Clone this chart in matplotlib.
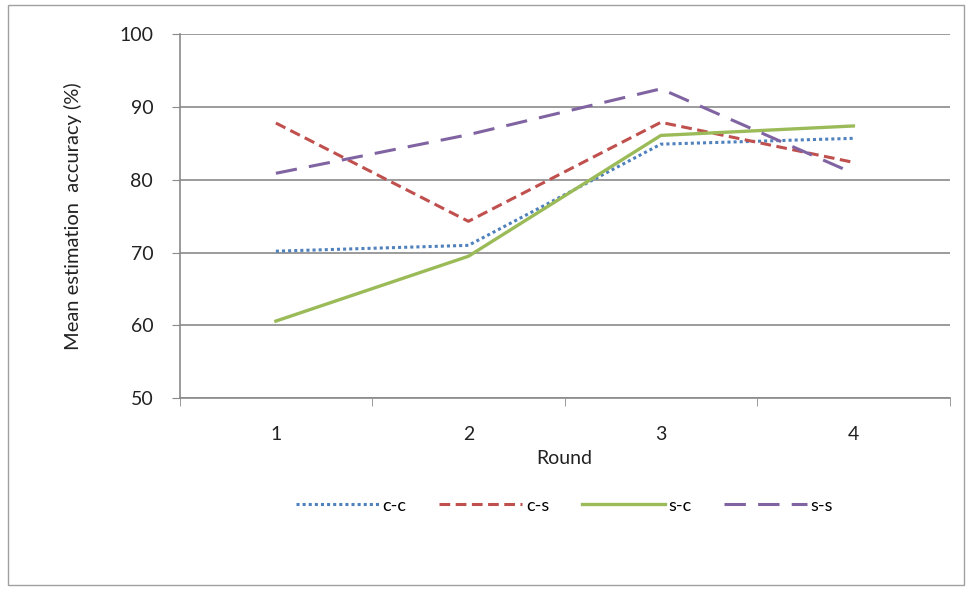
import matplotlib

matplotlib.use("Agg")
import matplotlib.pyplot as plt
from matplotlib.patches import Rectangle

# mean estimation accuracy per round, one list per condition
rounds = ["1", "2", "3", "4"]
cc = [70.2, 71.0, 84.9, 85.7]
cs = [87.8, 74.3, 87.9, 82.4]
sc = [60.6, 69.5, 86.1, 87.4]
ss = [80.9, 86.2, 92.5, 80.9]
labels = ["c-c", "c-s", "s-c", "s-s"]

GRID = "#8a8a8a"
TXT = "#222222"
plt.rcParams["font.family"] = ["Lato", "DejaVu Sans"]

fig = plt.figure(figsize=(9.71, 5.90), dpi=100)
fig.patches.append(Rectangle((0.008, 0.008), 0.985, 0.984, transform=fig.transFigure,
                             fill=False, edgecolor="#a0a0a0", lw=1.0))
ax = fig.add_axes([0.185, 0.325, 0.793, 0.617])

x = range(1, len(rounds) + 1)
ax.plot(x, cc, color="#4F81BD", lw=2.2, ls=(0, (1, 1)), label=labels[0])
ax.plot(x, cs, color="#C0504D", lw=2.2, ls=(0, (3.5, 1.8)), label=labels[1])
ax.plot(x, sc, color="#9BBB59", lw=2.4, ls="-", label=labels[2])
ax.plot(x, ss, color="#8064A2", lw=2.2, ls=(0, (7, 4)), label=labels[3])

ax.set_xlim(0.5, 4.5)
ax.set_ylim(50, 100)
ax.set_yticks(range(50, 101, 10))
ax.set_xticks(list(x))
ax.set_xticklabels(rounds)
ax.set_xticks([0.5, 1.5, 2.5, 3.5, 4.5], minor=True)
ax.tick_params(axis="x", which="major", length=0, pad=20, labelsize=14, colors=TXT)
ax.tick_params(axis="x", which="minor", length=6, color=GRID, direction="out")
ax.tick_params(axis="y", length=6, color=GRID, labelsize=14, colors=TXT, pad=13)
ax.yaxis.grid(True, color=GRID, lw=1.2)
ax.set_axisbelow(True)
for side in ("top", "right"):
    ax.spines[side].set_visible(False)
for side in ("left", "bottom"):
    ax.spines[side].set_color(GRID)
    ax.spines[side].set_linewidth(1.2)

ax.set_xlabel("Round", fontsize=14, labelpad=5, color=TXT)
ax.set_ylabel("Mean estimation  accuracy (%)", fontsize=14.5, labelpad=27, color=TXT)

ax.legend(loc="center", bbox_to_anchor=(0.5, -0.295), ncol=4, frameon=False,
          fontsize=13, handlelength=4.6, handletextpad=0.2, columnspacing=1.8)

fig.savefig("out.png", dpi=100)
